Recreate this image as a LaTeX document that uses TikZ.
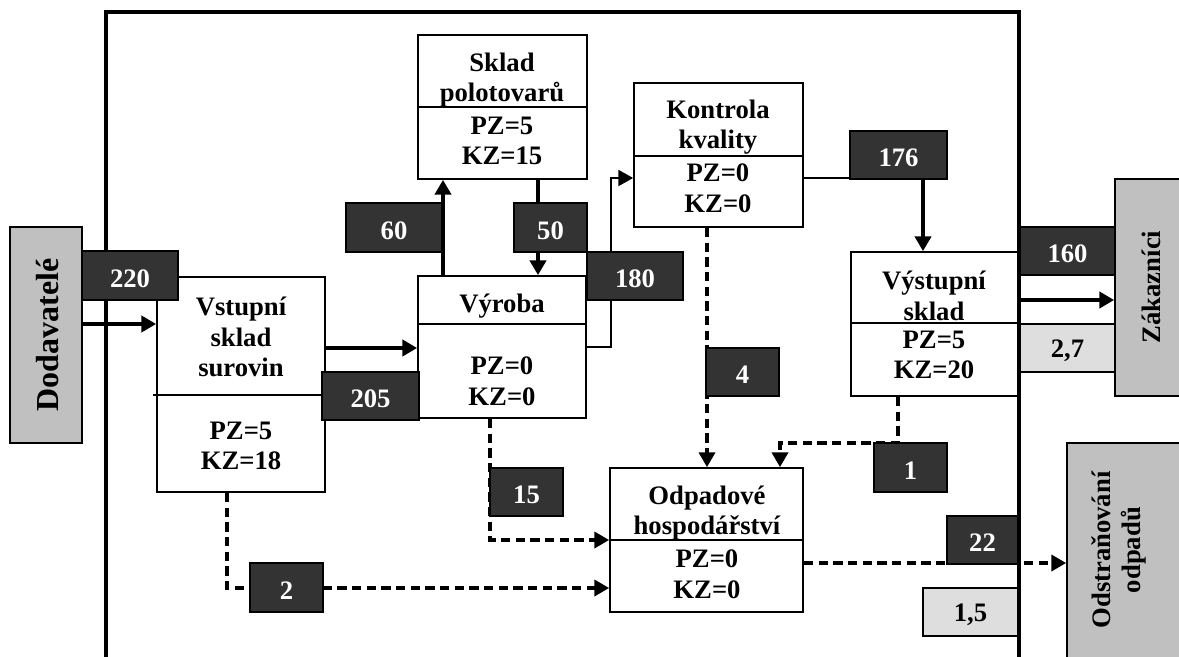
\documentclass[tikz,border=0pt]{standalone}
\usepackage{fontspec}
\setmainfont{Liberation Serif}
\usetikzlibrary{arrows.meta,fit,calc}

\definecolor{partnergray}{HTML}{C0C0C0}
\definecolor{flowdark}{HTML}{333333}
\definecolor{losslight}{HTML}{DEDEDE}

% numbered flow label: name, x1, y1, x2, y2, text
\newcommand\flowlabel[6]{%
  \node[flowbox, fit={(#2,#3) (#4,#5)}] (#1) {};
  \node[flowtext] (#1-t) at ($(#1.center)+(0,3)$) {#6};
}
% light loss label: name, x1, y1, x2, y2, text
\newcommand\losslabel[6]{%
  \node[lossbox, fit={(#2,#3) (#4,#5)}] (#1) {};
  \node[losstext] (#1-t) at ($(#1.center)+(0,3)$) {#6};
}

\begin{document}
\begin{tikzpicture}[x=0.75pt,y=-0.75pt,
  every node/.style={font=\bfseries\fontsize{20}{23}\selectfont},
  unitbox/.style={draw=black,line width=1.3pt,fill=white,inner sep=0pt},
  partner/.style={draw=black,line width=1.3pt,fill=partnergray,inner sep=0pt},
  flowbox/.style={draw=black,line width=1.3pt,fill=flowdark,inner sep=0pt},
  lossbox/.style={draw=black,line width=1.3pt,fill=losslight,inner sep=0pt},
  flowtext/.style={text=white,inner sep=0pt},
  losstext/.style={text=black,inner sep=0pt},
  boxtext/.style={align=center,inner sep=0pt},
  divider/.style={line width=1.3pt},
  frame/.style={line width=3pt,line join=miter},
  tip/.style={-{Triangle[length=11pt,width=12pt]}},
  flow/.style={tip,line width=2.7pt},
  thinflow/.style={tip,line width=1.2pt},
  thinline/.style={line width=1.2pt},
  waste/.style={tip,line width=2.5pt,dash pattern=on 7pt off 4pt}
]
\useasboundingbox (0,0) rectangle (1179,657);
\clip (0,0) rectangle (1179,657);

% company boundary
\draw[frame] (106,670) -- (106,12) -- (1019,12) -- (1019,670);

% departments
\node[unitbox, fit={(157,277) (325,492)}] (vstup) {};
\draw[divider] (153,395) -- (vstup.east |- 0,395);
\node[unitbox, fit={(418,276) (586,418)}] (vyr) {};
\draw[divider] (vyr.west |- 0,324) -- (vyr.east |- 0,324);
\node[unitbox, fit={(418,35) (587,179)}] (skl) {};
\draw[divider] (skl.west |- 0,107) -- (skl.east |- 0,107);
\node[unitbox, fit={(634,83) (803,227)}] (kk) {};
\draw[divider] (kk.west |- 0,156) -- (kk.east |- 0,156);
\node[unitbox, fit={(851,252) (1018,396)}] (vys) {};
\draw[divider] (vys.west |- 0,323) -- (vys.east |- 0,323);
\node[unitbox, fit={(610,468) (803,612)}] (odp) {};
\draw[divider] (odp.west |- 0,540) -- (odp.east |- 0,540);

% outside partners
\node[partner, fit={(10,227) (82,443)}] (dod) {};
\node[partner, fit={(1115,179) (1185,396)}] (zak) {};
\node[partner, fit={(1067,443) (1188,670)}] (odst) {};

% material flows
\draw[flow] (dod.east |- 0,324) -- (vstup.west |- 0,324);
\draw[flow] (vstup.east |- 0,348) -- (vyr.west |- 0,348);
\draw[flow] (vyr.north -| 443,0) -- (skl.south -| 443,0);
\draw[flow] (skl.south -| 538,0) -- (vyr.north -| 538,0);
\draw[thinflow] (vyr.east |- 0,347) -- (611,347) -- (611,178) -- (kk.west |- 0,178);
\draw[flow] (vys.east |- 0,300) -- (zak.west |- 0,300);

% waste flows
\draw[waste] (vstup.south -| 227,0) -- (227,588) -- (odp.west |- 0,588);
\draw[waste] (vyr.south -| 490,0) -- (490,540) -- (odp.west |- 0,540);
\draw[waste] (kk.south -| 707,0) -- (odp.north -| 707,0);
\draw[waste] (vys.south -| 898,0) -- (898,443) -- (780,443) -- (odp.north -| 780,0);
\draw[waste] (odp.east |- 0,563) -- (odst.west |- 0,563);

% flow quantities
\flowlabel{n220}{82}{251}{178}{300}{220}
\flowlabel{n205}{322}{372}{419}{420}{205}
\flowlabel{n60}{346}{203}{442}{252}{60}
\flowlabel{n50}{514}{203}{587}{252}{50}
\flowlabel{n180}{587}{252}{683}{300}{180}
\flowlabel{n176}{850}{131}{947}{179}{176}
\flowlabel{n160}{1020}{227}{1115}{275}{160}
\flowlabel{n4}{706}{348}{779}{396}{4}
\flowlabel{n1}{874}{443}{947}{492}{1}
\flowlabel{n15}{490}{468}{563}{516}{15}
\flowlabel{n2}{250}{563}{323}{612}{2}
\flowlabel{n22}{947}{516}{1018}{564}{22}
\losslabel{n27}{1020}{324}{1115}{372}{2,7}
\losslabel{n15b}{923}{588}{1018}{636}{1,5}

% Quality control to the output store
\draw[thinline] (kk.east |- 0,178) -- (n176.west |- 0,178);
\draw[flow] (n176.south -| 923,0) -- (vys.north -| 923,0);

% department texts
\node[boxtext] (vstup-a) at (241,337) {Vstupní\\sklad\\surovin};
\node[boxtext] (vstup-b) at (241,446) {PZ=5\\KZ=18};
\node[boxtext, anchor=base] (vyr-a) at (502,312) {Výroba};
\node[boxtext] (vyr-b) at (502,381) {PZ=0\\KZ=0};
\node[boxtext] (skl-a) at (502,80) {Sklad\\polotovarů};
\node[boxtext] (skl-b) at (502,141) {PZ=5\\KZ=15};
\node[boxtext] (kk-a) at (718,127) {Kontrola\\kvality};
\node[boxtext] (kk-b) at (718,188) {PZ=0\\KZ=0};
\node[boxtext] (vys-a) at (934,296) {Výstupní\\sklad};
\node[boxtext] (vys-b) at (934,355) {PZ=5\\KZ=20};
\node[boxtext] (odp-a) at (707,513) {Odpadové\\hospodářství};
\node[boxtext] (odp-b) at (707,574) {PZ=0\\KZ=0};

% partner texts
\node[boxtext, rotate=90, font=\bfseries\fontsize{24}{28}\selectfont] (dod-t) at (48,335) {Dodavatelé};
\node[boxtext, rotate=90] (zak-t) at (1151,287) {Zákazníci};
\node[boxtext, rotate=90] (odst-t) at (1119,550) {Odstraňování\\odpadů};
\end{tikzpicture}
\end{document}
